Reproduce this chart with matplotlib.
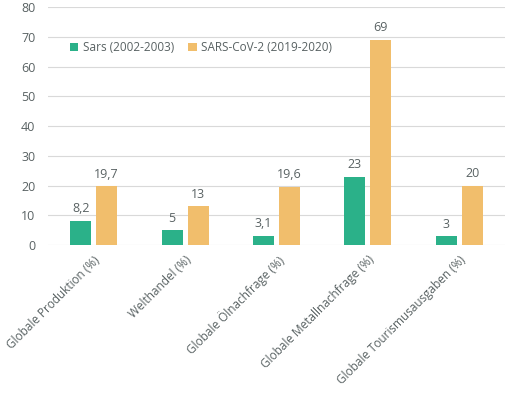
import matplotlib
matplotlib.use("Agg")
import matplotlib.pyplot as plt
import numpy as np

categories = ["Globale Produktion (%)", "Welthandel (%)", "Globale Ölnachfrage (%)",
              "Globale Metallnachfrage (%)", "Globale Tourismusausgaben (%)"]
sars = [8.2, 5, 3.1, 23, 3]
covid = [19.7, 13, 19.6, 69, 20]
sars_labels = ["8,2", "5", "3,1", "23", "3"]
covid_labels = ["19,7", "13", "19,6", "69", "20"]

green = "#2bb189"
orange = "#f1be6c"
txt = "#596263"

plt.rcParams['font.family'] = ['Open Sans', 'DejaVu Sans']

fig = plt.figure(figsize=(5.09, 3.93), dpi=100)
ax = fig.add_axes([0.0943, 0.3766, 0.8977, 0.6054])

x = np.arange(len(categories))
w = 0.23
off = 0.142
b1 = ax.bar(x - off, sars, w, color=green, label="Sars (2002-2003)", zorder=3)
b2 = ax.bar(x + off, covid, w, color=orange, label="SARS-CoV-2 (2019-2020)", zorder=3)

for bars, labs in [(b1, sars_labels), (b2, covid_labels)]:
    for b, l in zip(bars, labs):
        ax.annotate(l, (b.get_x() + b.get_width() / 2, b.get_height()),
                    xytext=(0, 4), textcoords="offset points",
                    ha="center", va="bottom", fontsize=9, color=txt)

ax.set_xlim(-0.5, len(categories) - 0.5)
ax.set_ylim(0, 80)
ax.set_yticks(range(0, 81, 10))
ax.grid(axis="y", color="#d9d9d9", linewidth=0.8, zorder=0)
for s in ax.spines.values():
    s.set_visible(False)
ax.tick_params(axis="y", length=0, colors=txt, labelsize=9, pad=9)
ax.tick_params(axis="x", length=0, colors=txt, labelsize=8.5, pad=6)
ax.set_xticks(x)
ax.set_xticklabels(categories, rotation=45, ha="right", rotation_mode="anchor")

ax.legend(loc="upper left", bbox_to_anchor=(0.025, 0.90), ncol=2, frameon=False,
          fontsize=8.5, labelcolor=txt, handlelength=0.7, handleheight=0.7,
          handletextpad=0.4, columnspacing=1.2)

fig.savefig("out.png", dpi=100)
